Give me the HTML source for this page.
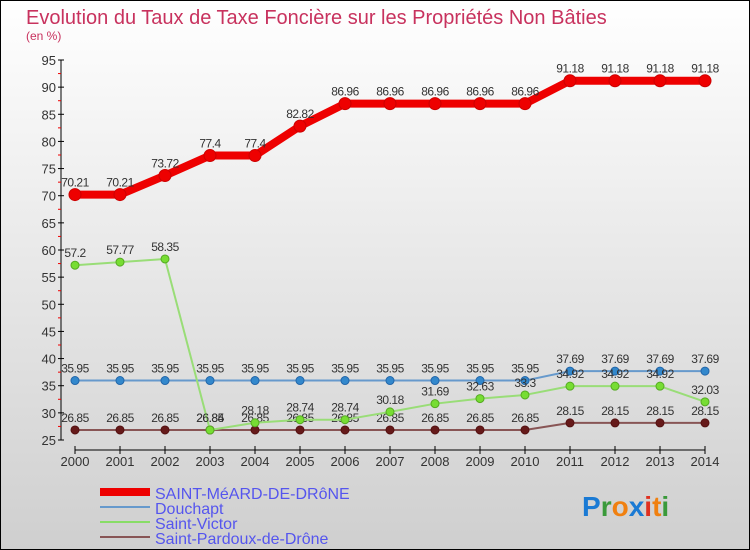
<!DOCTYPE html>
<html><head><meta charset="utf-8"><style>
body{margin:0;}
#wrap{width:750px;height:550px;position:relative;overflow:hidden;font-family:"Liberation Sans",sans-serif;}
svg text{font-family:"Liberation Sans",sans-serif;}
</style></head><body>
<div id="wrap">
<svg id="chart" width="750" height="550" xmlns="http://www.w3.org/2000/svg">
<defs><linearGradient id="bg" x1="0" y1="0" x2="0" y2="1"><stop offset="0" stop-color="#ffffff"/><stop offset="1" stop-color="#cfcfcf"/></linearGradient></defs>
<rect x="0.5" y="0.5" width="749" height="549" fill="url(#bg)" stroke="#000"/>
<text x="26" y="24" font-size="20" fill="#c8325e">Evolution du Taux de Taxe Foncière sur les Propriétés Non Bâties</text>
<text x="26" y="40" font-size="12" fill="#c8325e">(en %)</text>
<g id="axes"></g><g id="series"></g>
<g>
<line x1="100" y1="492" x2="150" y2="492" stroke="#ee0000" stroke-width="8"/>
<text x="155" y="499" font-size="16" fill="#5555ee">SAINT-MéARD-DE-DRôNE</text>
<line x1="100" y1="507" x2="150" y2="507" stroke="#6699cc" stroke-width="2"/>
<text x="155" y="514" font-size="16" fill="#5555ee">Douchapt</text>
<line x1="100" y1="522" x2="150" y2="522" stroke="#88dd66" stroke-width="2"/>
<text x="155" y="529" font-size="16" fill="#5555ee">Saint-Victor</text>
<line x1="100" y1="537" x2="150" y2="537" stroke="#885555" stroke-width="2"/>
<text x="155" y="544" font-size="16" fill="#5555ee">Saint-Pardoux-de-Drône</text>
</g>
<text x="582" y="516" font-size="28" font-weight="bold"><tspan fill="#1a7ad4">P</tspan><tspan fill="#3a9a3a">r</tspan><tspan fill="#f08010">o</tspan><tspan fill="#1a7ad4">x</tspan><tspan fill="#e03020">i</tspan><tspan fill="#f08010">t</tspan><tspan fill="#3a9a3a">i</tspan></text>
</svg></div>
<script>
const years=[2000,2001,2002,2003,2004,2005,2006,2007,2008,2009,2010,2011,2012,2013,2014];
const yTicks=[25,30,35,40,45,50,55,60,65,70,75,80,85,90,95];
const meard=[70.21,70.21,73.72,77.4,77.4,82.82,86.96,86.96,86.96,86.96,86.96,91.18,91.18,91.18,91.18];
const douchapt=[35.95,35.95,35.95,35.95,35.95,35.95,35.95,35.95,35.95,35.95,35.95,37.69,37.69,37.69,37.69];
const victor=[57.2,57.77,58.35,26.84,28.18,28.74,28.74,30.18,31.69,32.63,33.3,34.92,34.92,34.92,32.03];
const pardoux=[26.85,26.85,26.85,26.85,26.85,26.85,26.85,26.85,26.85,26.85,26.85,28.15,28.15,28.15,28.15];
const NS="http://www.w3.org/2000/svg";
const x=i=>75+i*45;
const y=v=>440-(v-25)*(380/70);
function mk(tag,at,parent){const e=document.createElementNS(NS,tag);for(const k in at)e.setAttribute(k,at[k]);parent.appendChild(e);return e;}
const ax=document.getElementById('axes');
let e=mk('line',{x1:61,y1:y(95),x2:61,y2:y(25),stroke:'#000'},ax);


yTicks.forEach(t=>{
 mk('line',{x1:58,y1:y(t),x2:64,y2:y(t),stroke:'#000'},ax);
 if(t<95) mk('line',{x1:58,y1:y(t+2.5),x2:61,y2:y(t+2.5),stroke:'#e00'},ax);
 const tx=mk('text',{x:56,y:y(t)+5,'font-size':13,fill:'#333','text-anchor':'end'},ax);
 tx.textContent=t;
 
 
});
e=mk('line',{x1:x(0),y1:450,x2:x(14),y2:450,stroke:'#000'},ax);


years.forEach((yr,i)=>{
 mk('line',{x1:x(i),y1:446,x2:x(i),y2:454,stroke:'#000'},ax);
 const tx=mk('text',{x:x(i),y:466,'font-size':13,fill:'#333','text-anchor':'middle'},ax);
 tx.textContent=yr;
 
 
});
const sg=document.getElementById('series');
function series(vals,name,color,w,r,dot,dotStroke){
 const g=mk('g',{},sg);
 
 
 const p=mk('polyline',{points:vals.map((v,i)=>x(i)+','+y(v)).join(' '),fill:'none',stroke:color,'stroke-width':w,'stroke-linejoin':'round'},g);
 
 
 vals.forEach((v,i)=>{
  const c=mk('circle',{cx:x(i),cy:y(v),r:r,fill:dot,stroke:dotStroke,'stroke-width':1},g);
  
  
  const t=mk('text',{x:x(i),y:y(v)-8,'font-size':12,fill:'#333','text-anchor':'middle','letter-spacing':'-0.5'},g);
  t.textContent=v;
  
  
 });
}
series(pardoux,'saint-pardoux','#885555',2,4,'#661a1a','#551111');
series(douchapt,'douchapt','#6699cc',2,4,'#3388cc','#2266aa');
series(victor,'saint-victor','#99dd77',2,4,'#77dd33','#55aa22');
series(meard,'saint-meard','#ee0000',8,6,'#ee0000','#cc0000');
</script>
</body></html>
